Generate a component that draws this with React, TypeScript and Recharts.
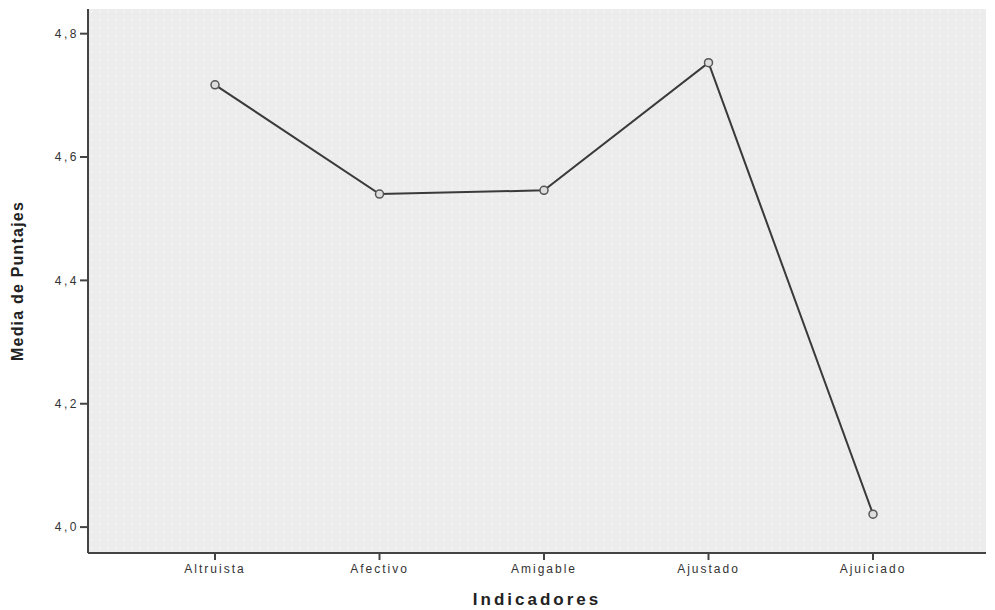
import { LineChart, Line, XAxis, YAxis, CartesianGrid, Customized } from "recharts"

const indicadores = ["Altruista", "Afectivo", "Amigable", "Ajustado", "Ajuiciado"]
const medias = [4.717, 4.54, 4.546, 4.753, 4.021]
const yTicks = [4.0, 4.2, 4.4, 4.6, 4.8]

const data = indicadores.map((name, i) => ({ name, media: medias[i] }))

const fmt = (v: number) => v.toFixed(1).replace(".", ",")
const font = "Arial, Liberation Sans, sans-serif"

export default function App() {
  return (
    <div style={{ position: "absolute", left: 0, top: 0, background: "#fff" }}>
      <LineChart width={995} height={610} data={data} margin={{ top: 9, right: 9, bottom: 0, left: 0 }}>
        <defs>
          <pattern id="dots" width="8" height="8" patternUnits="userSpaceOnUse">
            <rect width="8" height="8" fill="#ececec" />
            <rect x="3" y="3" width="1.5" height="1.5" fill="#fbfbfb" />
          </pattern>
        </defs>
        <CartesianGrid horizontal={false} vertical={false} fill="url(#dots)" />
        <XAxis
          dataKey="name"
          padding={{ left: 127, right: 113 }}
          height={57}
          stroke="#444"
          strokeWidth={2}
          tickSize={7}
          tickMargin={4}
          tick={{ fill: "#333", fontSize: 12, fontFamily: font, letterSpacing: 2 }}
          label={{ value: "Indicadores", position: "insideBottom", offset: 5, fill: "#222", fontSize: 17, fontWeight: "bold", fontFamily: font, letterSpacing: 3 }}
        />
        <YAxis
          domain={[3.958, 4.84]}
          ticks={yTicks}
          tickFormatter={fmt}
          width={88}
          stroke="#444"
          strokeWidth={2}
          tickSize={8}
          tickMargin={1}
          tick={{ fill: "#333", fontSize: 12, fontFamily: font, letterSpacing: 2.5 }}
          label={{ value: "Media de Puntajes", angle: -90, position: "insideLeft", offset: 17, fill: "#222", fontSize: 16, fontWeight: "bold", fontFamily: font, letterSpacing: 1.2, style: { textAnchor: "middle" } }}
        />
        <Customized
          component={(p: any) => {
            const o = p.offset
            if (!o) return null
            return (
              <g>
                <line x1={o.left} x2={o.left + o.width} y1={o.top} y2={o.top} stroke="#777" strokeWidth={2} />
                <line x1={o.left + o.width} x2={o.left + o.width} y1={o.top} y2={o.top + o.height} stroke="#bbb" strokeWidth={1} />
              </g>
            )
          }}
        />
        <Line
          type="linear"
          dataKey="media"
          stroke="#3a3a3a"
          strokeWidth={2}
          dot={{ r: 4, stroke: "#555", strokeWidth: 1.5, fill: "#ddd" }}
          isAnimationActive={false}
        />
      </LineChart>
    </div>
  )
}
